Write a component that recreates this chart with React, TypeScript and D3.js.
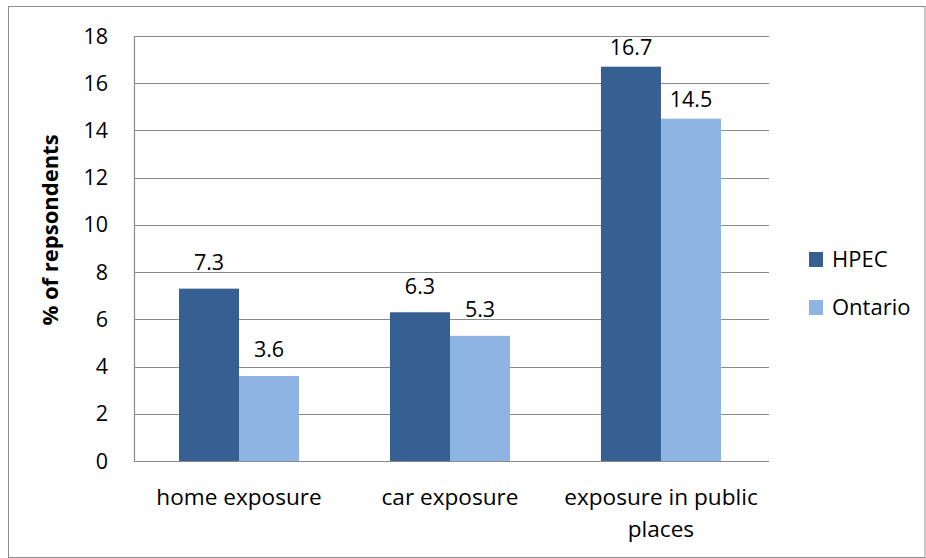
import React from "react";
import * as d3 from "d3";

const categories = ["home exposure", "car exposure", "exposure in public places"];
const categoryLines = [["home exposure"], ["car exposure"], ["exposure in public", "places"]];
const seriesNames = ["HPEC", "Ontario"];
const hpecValues = [7.3, 6.3, 16.7];
const ontarioValues = [3.6, 5.3, 14.5];
const yTicks = [0, 2, 4, 6, 8, 10, 12, 14, 16, 18];
const colors = ["#376092", "#8EB4E3"];

const W = 926;
const H = 558;
const plot = { left: 134, right: 769, top: 36, bottom: 461 };
const FONT = "'Open Sans', 'Noto Sans', sans-serif";
const FS = 21.5;
const FS_CAT = 22.6;

export default function App() {
  const x0 = d3
    .scaleBand<string>()
    .domain(categories)
    .range([plot.left, plot.right - 3])
    .paddingInner(0.431)
    .paddingOuter(0.2133);
  const x1 = d3.scaleBand<string>().domain(seriesNames).range([0, x0.bandwidth()]);
  const y = d3.scaleLinear().domain([0, 18]).range([plot.bottom, plot.top]);
  const series = [hpecValues, ontarioValues];

  return (
    <svg width={W} height={H} style={{ position: "absolute", left: 0, top: 0, fontFamily: FONT }}>
      <rect x={8.5} y={6.5} width={W - 9.5} height={H - 7} fill="#fff" stroke="#8c8c8c" strokeWidth={1} />
      {yTicks.map((t) => (
        <g key={t}>
          <line x1={plot.left} x2={plot.right} y1={Math.round(y(t)) + 0.5} y2={Math.round(y(t)) + 0.5} stroke="#8a8a8a" strokeWidth={1.2} />
          <text x={108} y={y(t) + 7.5} textAnchor="end" fontSize={FS} fill="#000">
            {t}
          </text>
        </g>
      ))}
      <line x1={plot.left + 0.5} x2={plot.left + 0.5} y1={plot.top} y2={plot.bottom} stroke="#8a8a8a" strokeWidth={1.2} />
      {categories.map((c, ci) => (
        <g key={c}>
          {series.map((vals, si) => {
            const bx = (x0(c) ?? 0) + (x1(seriesNames[si]) ?? 0);
            const by = y(vals[ci]);
            const gap = vals[ci] > 10 ? 12 : 18.7;
            return (
              <g key={si}>
                <rect x={bx} y={by} width={x1.bandwidth()} height={plot.bottom - by} fill={colors[si]} />
                <text x={bx + x1.bandwidth() / 2} y={by - gap} textAnchor="middle" fontSize={FS} fill="#000">
                  {vals[ci]}
                </text>
              </g>
            );
          })}
          {categoryLines[ci].map((line, li) => (
            <text key={li} x={(x0(c) ?? 0) + x0.bandwidth() / 2} y={505 + li * 32} textAnchor="middle" fontSize={FS_CAT} fill="#000">
              {line}
            </text>
          ))}
        </g>
      ))}
      <text transform={`translate(58,230) rotate(-90)`} textAnchor="middle" fontSize={22} fontWeight="bold" fill="#000">
        % of repsondents
      </text>
      {seriesNames.map((s, i) => (
        <g key={s} transform={`translate(809,${252 + i * 48})`}>
          <rect width={14} height={15} fill={colors[i]} />
          <text x={23} y={15} fontSize={22} fill="#000">
            {s}
          </text>
        </g>
      ))}
    </svg>
  );
}
